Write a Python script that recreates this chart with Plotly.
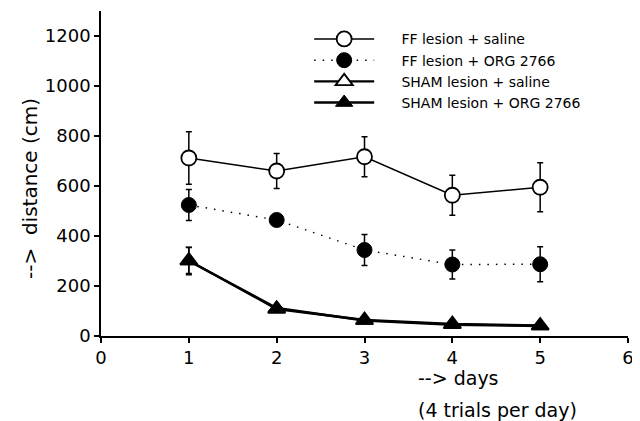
import plotly.graph_objects as go

days = [1, 2, 3, 4, 5]

ff_saline = [712, 660, 717, 563, 595]
ff_saline_err = [105, 70, 80, 80, 98]

ff_org = [524, 464, 344, 286, 287]
ff_org_err = [62, 15, 62, 58, 70]

sham_saline = [302, 108, 64, 48, 42]
sham_saline_err = [52, 12, 8, 6, 6]

sham_org = [300, 112, 62, 45, 40]
sham_org_err = [55, 12, 8, 6, 6]

names = ["FF lesion + saline", "FF lesion + ORG 2766",
         "SHAM lesion + saline", "SHAM lesion + ORG 2766"]

xticks = [0, 1, 2, 3, 4, 5, 6]
yticks = [0, 200, 400, 600, 800, 1000, 1200]

FONT = "DejaVu Sans"
PAD = "\u00a0" * 5

fig = go.Figure()

def err(arr):
    return dict(type="data", array=arr, visible=True, color="black",
                thickness=1.5, width=3)

fig.add_trace(go.Scatter(
    x=days, y=ff_saline, name=PAD + names[0], mode="lines+markers",
    line=dict(color="black", width=1.5),
    marker=dict(symbol="circle", size=15, color="white",
                line=dict(color="black", width=1.8)),
    error_y=err(ff_saline_err)))

fig.add_trace(go.Scatter(
    x=days, y=ff_org, name=PAD + names[1], mode="lines+markers",
    line=dict(color="black", width=1.5, dash="1.5px,7px"),
    marker=dict(symbol="circle", size=15, color="black",
                line=dict(color="black", width=1)),
    error_y=err(ff_org_err)))

fig.add_trace(go.Scatter(
    x=days, y=sham_saline, name=PAD + names[2], mode="lines+markers",
    line=dict(color="black", width=2.4),
    marker=dict(symbol="triangle-up", size=15, color="white",
                line=dict(color="black", width=1.8)),
    error_y=err(sham_saline_err)))

fig.add_trace(go.Scatter(
    x=days, y=sham_org, name=PAD + names[3], mode="lines+markers",
    line=dict(color="black", width=2.4),
    marker=dict(symbol="triangle-up", size=15, color="black",
                line=dict(color="black", width=1)),
    error_y=err(sham_org_err)))

axis_common = dict(showgrid=False, zeroline=False, showline=True,
                   linecolor="black", linewidth=1.5, ticks="outside",
                   ticklen=5, tickwidth=1.5, tickcolor="black",
                   tickfont=dict(family=FONT, size=18, color="black"))

fig.update_layout(
    width=632, height=413,
    margin=dict(l=93, r=12, t=3, b=85),
    paper_bgcolor="white", plot_bgcolor="white",
    font=dict(family=FONT, color="black"),
    xaxis=dict(range=[0, 6], tickvals=xticks, **axis_common),
    yaxis=dict(range=[0, 1300], tickvals=yticks, **axis_common),
    xaxis2=dict(overlaying="x", range=[0, 6], tickvals=xticks,
                showticklabels=False, showgrid=False, zeroline=False,
                showline=False, ticks="inside", ticklen=5, tickwidth=1.5,
                tickcolor="black", anchor="y"),
    yaxis2=dict(overlaying="y", range=[0, 1300], tickvals=yticks,
                showticklabels=False, showgrid=False, zeroline=False,
                showline=False, ticks="inside", ticklen=4, tickwidth=1.5,
                tickcolor="black", anchor="x"),
    showlegend=True,
    legend=dict(x=0.395, y=0.962, xanchor="left", yanchor="top",
                bgcolor="rgba(0,0,0,0)", itemwidth=60,
                font=dict(family=FONT, size=14, color="black"),
                tracegroupgap=0),
    annotations=[
        dict(text="-->  distance (cm)", xref="paper", yref="paper",
             x=-0.135, y=0.455, xanchor="center", yanchor="middle",
             textangle=-90, showarrow=False,
             font=dict(family=FONT, size=20, color="black")),
        dict(text="--> days", xref="paper", yref="paper",
             x=0.598, y=-0.129, xanchor="left", yanchor="middle",
             showarrow=False,
             font=dict(family=FONT, size=19, color="black")),
        dict(text="(4 trials per day)", xref="paper", yref="paper",
             x=0.598, y=-0.228, xanchor="left", yanchor="middle",
             showarrow=False,
             font=dict(family=FONT, size=19, color="black")),
    ],
)

fig.write_html("out.html")
